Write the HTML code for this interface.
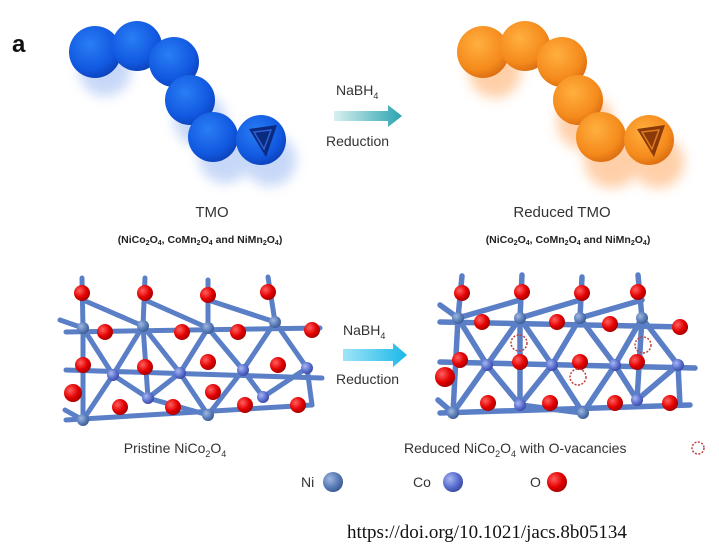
<!DOCTYPE html>
<html><head><meta charset="utf-8"><style>
html,body{margin:0;padding:0;background:#fff;}
svg{display:block;font-family:"Liberation Sans",Arial,sans-serif;}
</style></head><body>
<svg width="719" height="548" viewBox="0 0 719 548" xmlns="http://www.w3.org/2000/svg">
<defs>
<radialGradient id="bb" cx="0.4" cy="0.35" r="0.7"><stop offset="0" stop-color="#2a7ef5"/><stop offset="0.7" stop-color="#1158e0"/><stop offset="1" stop-color="#0b3fb5"/></radialGradient>
<radialGradient id="ob" cx="0.4" cy="0.35" r="0.7"><stop offset="0" stop-color="#ffb040"/><stop offset="0.7" stop-color="#f58a1c"/><stop offset="1" stop-color="#d86a10"/></radialGradient>
<radialGradient id="rb" cx="0.35" cy="0.35" r="0.7"><stop offset="0" stop-color="#ff6060"/><stop offset="0.6" stop-color="#e40000"/><stop offset="1" stop-color="#a00000"/></radialGradient>
<radialGradient id="nb" cx="0.35" cy="0.35" r="0.7"><stop offset="0" stop-color="#9fb8e0"/><stop offset="0.6" stop-color="#5a7cb8"/><stop offset="1" stop-color="#3a5a90"/></radialGradient>
<radialGradient id="cb" cx="0.35" cy="0.35" r="0.7"><stop offset="0" stop-color="#a8b8f0"/><stop offset="0.6" stop-color="#5b6fd0"/><stop offset="1" stop-color="#3a48a0"/></radialGradient>
<linearGradient id="ar" x1="0" x2="1"><stop offset="0" stop-color="#d8f0f0"/><stop offset="1" stop-color="#2aa3b0"/></linearGradient>
<linearGradient id="ar2" x1="0" x2="1"><stop offset="0" stop-color="#9fe4f8"/><stop offset="1" stop-color="#1ab8e8"/></linearGradient>
<filter id="bl"><feGaussianBlur stdDeviation="6"/></filter>
</defs>
<text x="12" y="52" font-size="24" font-weight="bold" fill="#111">a</text>

<g fill="#8fb0f0" opacity="0.5" filter="url(#bl)"><circle cx="105" cy="70" r="26"/><circle cx="200" cy="120" r="26"/><circle cx="225" cy="157" r="26"/><circle cx="270" cy="160" r="26"/></g>
<g fill="url(#bb)"><circle cx="95" cy="52" r="26"/><circle cx="137" cy="46" r="25"/><circle cx="174" cy="62" r="25"/><circle cx="190" cy="100" r="25"/><circle cx="213" cy="137" r="25"/><circle cx="261" cy="140" r="25"/></g>
<path d="M249 129 L277 125 L266 157 Z" fill="#0a2a80"/>
<path d="M254 132 L271 130 L264 149 Z" fill="none" stroke="#3060d0" stroke-width="1.5"/>

<g fill="#ffb070" opacity="0.6" filter="url(#bl)"><circle cx="495" cy="72" r="26"/><circle cx="585" cy="122" r="28"/><circle cx="612" cy="160" r="28"/><circle cx="658" cy="162" r="26"/></g>
<g fill="url(#ob)"><circle cx="483" cy="52" r="26"/><circle cx="525" cy="46" r="25"/><circle cx="562" cy="62" r="25"/><circle cx="578" cy="100" r="25"/><circle cx="601" cy="137" r="25"/><circle cx="649" cy="140" r="25"/></g>
<path d="M637 129 L665 125 L654 157 Z" fill="#8a3a08"/>
<path d="M642 132 L659 130 L652 149 Z" fill="none" stroke="#e07a20" stroke-width="1.5"/>

<text x="336" y="95" font-size="14" fill="#333">NaBH<tspan font-size="9" dy="4">4</tspan></text>
<path d="M334 111 L388 111 L388 105 L402 116 L388 127 L388 121 L334 121 Z" fill="url(#ar)"/>
<text x="326" y="146" font-size="14" fill="#333">Reduction</text>

<text x="212" y="217" font-size="15" fill="#333" text-anchor="middle">TMO</text>
<text x="200" y="243" font-size="10.5" fill="#222" text-anchor="middle" font-weight="bold">(NiCo<tspan font-size="7" dy="2">2</tspan><tspan dy="-2">O</tspan><tspan font-size="7" dy="2">4</tspan><tspan dy="-2">, CoMn</tspan><tspan font-size="7" dy="2">2</tspan><tspan dy="-2">O</tspan><tspan font-size="7" dy="2">4</tspan><tspan dy="-2"> and NiMn</tspan><tspan font-size="7" dy="2">2</tspan><tspan dy="-2">O</tspan><tspan font-size="7" dy="2">4</tspan><tspan dy="-2">)</tspan></text>
<text x="562" y="217" font-size="15" fill="#333" text-anchor="middle">Reduced TMO</text>
<text x="568" y="243" font-size="10.5" fill="#222" text-anchor="middle" font-weight="bold">(NiCo<tspan font-size="7" dy="2">2</tspan><tspan dy="-2">O</tspan><tspan font-size="7" dy="2">4</tspan><tspan dy="-2">, CoMn</tspan><tspan font-size="7" dy="2">2</tspan><tspan dy="-2">O</tspan><tspan font-size="7" dy="2">4</tspan><tspan dy="-2"> and NiMn</tspan><tspan font-size="7" dy="2">2</tspan><tspan dy="-2">O</tspan><tspan font-size="7" dy="2">4</tspan><tspan dy="-2">)</tspan></text>

<g stroke="#5b7fc7" stroke-width="5" stroke-linecap="round">
<line x1="82" y1="278" x2="83" y2="328"/><line x1="145" y1="278" x2="143" y2="326"/><line x1="208" y1="280" x2="208" y2="328"/><line x1="268" y1="277" x2="275" y2="322"/>
<line x1="66" y1="332" x2="320" y2="328"/>
<line x1="66" y1="370" x2="322" y2="378"/>
<line x1="66" y1="420" x2="312" y2="405"/>
<line x1="83" y1="328" x2="113" y2="375"/><line x1="143" y1="326" x2="113" y2="375"/><line x1="143" y1="326" x2="180" y2="373"/><line x1="208" y1="328" x2="180" y2="373"/><line x1="208" y1="328" x2="243" y2="370"/><line x1="275" y1="322" x2="243" y2="370"/><line x1="275" y1="322" x2="307" y2="368"/>
<line x1="143" y1="326" x2="148" y2="398"/><line x1="83" y1="328" x2="83" y2="420"/>
<line x1="113" y1="375" x2="148" y2="398"/><line x1="180" y1="373" x2="148" y2="398"/><line x1="180" y1="373" x2="208" y2="415"/><line x1="243" y1="370" x2="208" y2="415"/><line x1="243" y1="370" x2="263" y2="397"/><line x1="307" y1="368" x2="263" y2="397"/>
<line x1="113" y1="375" x2="83" y2="420"/><line x1="148" y1="398" x2="208" y2="415"/><line x1="307" y1="368" x2="312" y2="405"/>
<line x1="83" y1="300" x2="143" y2="326"/><line x1="208" y1="328" x2="145" y2="300"/><line x1="275" y1="322" x2="208" y2="300"/>
<line x1="60" y1="320" x2="83" y2="328"/><line x1="65" y1="410" x2="83" y2="420"/>
</g>
<g fill="url(#rb)">
<circle cx="82" cy="293" r="8"/><circle cx="145" cy="293" r="8"/><circle cx="208" cy="295" r="8"/><circle cx="268" cy="292" r="8"/>
<circle cx="105" cy="332" r="8"/><circle cx="182" cy="332" r="8"/><circle cx="238" cy="332" r="8"/><circle cx="312" cy="330" r="8"/>
<circle cx="83" cy="365" r="8"/><circle cx="145" cy="367" r="8"/><circle cx="208" cy="362" r="8"/><circle cx="278" cy="365" r="8"/>
<circle cx="73" cy="393" r="9"/><circle cx="120" cy="407" r="8"/><circle cx="173" cy="407" r="8"/><circle cx="213" cy="392" r="8"/><circle cx="245" cy="405" r="8"/><circle cx="298" cy="405" r="8"/>
</g>
<g fill="url(#nb)"><circle cx="83" cy="328" r="6"/><circle cx="143" cy="326" r="6"/><circle cx="208" cy="328" r="6"/><circle cx="275" cy="322" r="6"/><circle cx="83" cy="420" r="6"/><circle cx="208" cy="415" r="6"/></g>
<g fill="url(#cb)"><circle cx="113" cy="375" r="6"/><circle cx="180" cy="373" r="6"/><circle cx="243" cy="370" r="6"/><circle cx="307" cy="368" r="6"/><circle cx="148" cy="398" r="6"/><circle cx="263" cy="397" r="6"/></g>

<text x="343" y="335" font-size="14" fill="#333">NaBH<tspan font-size="9" dy="4">4</tspan></text>
<path d="M343 349 L393 349 L393 343 L407 355 L393 367 L393 361 L343 361 Z" fill="url(#ar2)"/>
<text x="336" y="384" font-size="14" fill="#333">Reduction</text>

<g stroke="#5b7fc7" stroke-width="5.5" stroke-linecap="round">
<line x1="462" y1="276" x2="458" y2="318"/><line x1="522" y1="275" x2="520" y2="318"/><line x1="582" y1="277" x2="580" y2="318"/><line x1="638" y1="275" x2="642" y2="318"/>
<line x1="440" y1="322" x2="685" y2="327"/>
<line x1="440" y1="362" x2="695" y2="368"/>
<line x1="440" y1="413" x2="690" y2="405"/>
<line x1="458" y1="318" x2="487" y2="365"/><line x1="520" y1="318" x2="487" y2="365"/><line x1="520" y1="318" x2="552" y2="365"/><line x1="580" y1="318" x2="552" y2="365"/><line x1="580" y1="318" x2="615" y2="365"/><line x1="642" y1="318" x2="615" y2="365"/><line x1="642" y1="318" x2="678" y2="365"/>
<line x1="458" y1="318" x2="453" y2="413"/>
<line x1="487" y1="365" x2="520" y2="405"/><line x1="552" y1="365" x2="520" y2="405"/><line x1="552" y1="365" x2="583" y2="413"/><line x1="615" y1="365" x2="583" y2="413"/><line x1="615" y1="365" x2="637" y2="400"/><line x1="678" y1="365" x2="637" y2="400"/>
<line x1="487" y1="365" x2="453" y2="413"/><line x1="520" y1="405" x2="583" y2="413"/><line x1="678" y1="365" x2="680" y2="405"/>
<line x1="458" y1="318" x2="520" y2="300"/><line x1="520" y1="318" x2="580" y2="300"/><line x1="580" y1="318" x2="642" y2="300"/>
<line x1="440" y1="305" x2="458" y2="318"/><line x1="438" y1="400" x2="453" y2="413"/><line x1="520" y1="318" x2="520" y2="405"/><line x1="637" y1="400" x2="642" y2="318"/>
</g>
<g fill="url(#rb)">
<circle cx="462" cy="293" r="8"/><circle cx="522" cy="292" r="8"/><circle cx="582" cy="293" r="8"/><circle cx="638" cy="292" r="8"/>
<circle cx="482" cy="322" r="8"/><circle cx="557" cy="322" r="8"/><circle cx="610" cy="324" r="8"/><circle cx="680" cy="327" r="8"/>
<circle cx="460" cy="360" r="8"/><circle cx="520" cy="362" r="8"/><circle cx="580" cy="362" r="8"/><circle cx="637" cy="362" r="8"/><circle cx="445" cy="377" r="10"/>
<circle cx="488" cy="403" r="8"/><circle cx="550" cy="403" r="8"/><circle cx="615" cy="403" r="8"/><circle cx="670" cy="403" r="8"/>
</g>
<g fill="url(#nb)"><circle cx="458" cy="318" r="6"/><circle cx="520" cy="318" r="6"/><circle cx="580" cy="318" r="6"/><circle cx="642" cy="318" r="6"/><circle cx="453" cy="413" r="6"/><circle cx="583" cy="413" r="6"/></g>
<g fill="url(#cb)"><circle cx="487" cy="365" r="6"/><circle cx="552" cy="365" r="6"/><circle cx="615" cy="365" r="6"/><circle cx="678" cy="365" r="6"/><circle cx="520" cy="405" r="6"/><circle cx="637" cy="400" r="6"/></g>
<g fill="none" stroke="#c04040" stroke-width="1.5" stroke-dasharray="2 1.5"><circle cx="519" cy="343" r="8"/><circle cx="643" cy="345" r="8"/><circle cx="578" cy="377" r="8"/><circle cx="698" cy="448" r="6"/></g>

<text x="175" y="453" font-size="14" fill="#333" text-anchor="middle">Pristine NiCo<tspan font-size="9" dy="4">2</tspan><tspan dy="-4">O</tspan><tspan font-size="9" dy="4">4</tspan></text>
<text x="404" y="453" font-size="14" fill="#333">Reduced NiCo<tspan font-size="9" dy="4">2</tspan><tspan dy="-4">O</tspan><tspan font-size="9" dy="4">4</tspan><tspan dy="-4"> with O-vacancies</tspan></text>

<text x="301" y="487" font-size="14" fill="#333">Ni</text><circle cx="333" cy="482" r="10" fill="url(#nb)"/>
<text x="413" y="487" font-size="14" fill="#333">Co</text><circle cx="453" cy="482" r="10" fill="url(#cb)"/>
<text x="530" y="487" font-size="14" fill="#333">O</text><circle cx="557" cy="482" r="10" fill="url(#rb)"/>

<text x="347" y="538" font-size="19" fill="#111" font-family="Liberation Serif, serif">https://doi.org/10.1021/jacs.8b05134</text>
</svg>
</body></html>
